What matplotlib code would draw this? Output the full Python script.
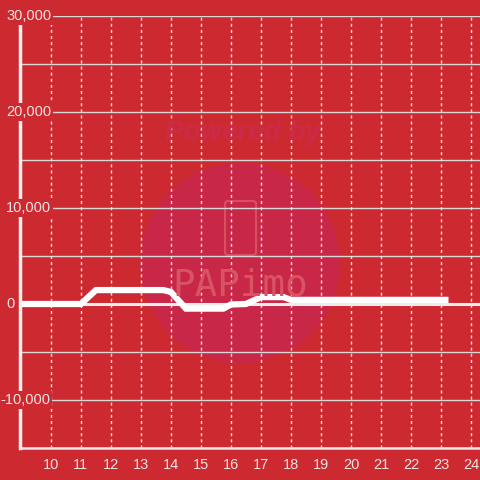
import matplotlib
matplotlib.use('Agg')
import matplotlib.pyplot as plt
import matplotlib.transforms as mtransforms
from matplotlib.patches import Circle, FancyBboxPatch

# Datos de la serie (hora del dia, valor)
horas = [9.0, 11.0, 11.5, 13.75, 14.0, 14.5, 15.75, 16.0, 16.5, 17.0, 17.75, 18.0, 23.25]
valores = [0, 0, 1450, 1450, 1250, -480, -480, -50, 0, 720, 720, 430, 430]

# Marcas de los ejes
ticks_x = list(range(10, 25))
ticks_y = [-10000, 0, 10000, 20000, 30000]
etiquetas_y = ['-10,000', '0', '10,000', '20,000', '30,000']

fondo = '#cc2a30'
texto = '#f2e4e4'

plt.rcParams['font.family'] = ['Liberation Sans', 'DejaVu Sans']

fig = plt.figure(figsize=(4.8, 4.8), dpi=100, facecolor=fondo)
ax = fig.add_axes([20 / 480, 1 - 448 / 480, 460 / 480, 432 / 480])
ax.set_facecolor(fondo)

ax.set_xlim(8.97, 24.3)
ax.set_ylim(-15000, 30000)

# Marca de agua "Powered by PAPIMO"
ax.add_patch(Circle((240 / 480, 1 - 263 / 480), 100 / 480, transform=fig.transFigure,
                    color='#c92748', zorder=0.1, lw=0))
ax.add_patch(FancyBboxPatch((225 / 480, 1 - 255 / 480), 31 / 480, 54 / 480,
                            boxstyle='round,pad=0,rounding_size=0.006',
                            transform=fig.transFigure, fill=False,
                            ec='#d85060', lw=1.5, zorder=0.2))
fig.text(243 / 480, 1 - 133 / 480, 'Powered by', transform=fig.transFigure,
         ha='center', va='center', fontsize=20, fontweight='bold', style='italic',
         color='#cb2a48', zorder=0.2)
fig.text(240 / 480, 1 - 286 / 480, 'PAPimo', transform=fig.transFigure,
         ha='center', va='center', fontsize=27, family='DejaVu Sans Mono',
         color='#d85462', zorder=0.2)

# Rejilla horizontal cada 5000 y vertical punteada
for y in range(-15000, 30001, 5000):
    if y != 0:
        ax.axhline(y, color='#d8d8d8', lw=1, zorder=1)
for x in ticks_x:
    ax.axvline(x, color='#e6e6e6', lw=1, ls=(0, (2.2, 2.2)), zorder=1)

# Linea de cero
ax.axhline(0, color='#ececec', lw=2.2, zorder=2)

# Serie
ax.plot(horas, valores, color='white', lw=4.5, solid_capstyle='butt',
        solid_joinstyle='miter', zorder=3)

# Ejes
for s in ['top', 'right']:
    ax.spines[s].set_visible(False)
ax.spines['left'].set_color('#f4f0f0')
ax.spines['left'].set_linewidth(2.5)
ax.spines['left'].set_zorder(4)
ax.spines['bottom'].set_color('#e8e8e8')
ax.spines['bottom'].set_linewidth(1.8)

ax.set_xticks(ticks_x)
ax.set_xticklabels([str(t) for t in ticks_x], color=texto, fontsize=10.5)
ax.tick_params(axis='x', length=0, pad=7)
ax.set_yticks([])

# Etiquetas del eje y con fondo que tapa la rejilla
trans = mtransforms.blended_transform_factory(fig.transFigure, ax.transData)
for v, lab in zip(ticks_y, etiquetas_y):
    xpix = 0 if lab.startswith('-') else 6
    ax.text(xpix / 480, v, lab, transform=trans,
            ha='left', va='center', fontsize=10.5, color=texto, zorder=5, clip_on=False,
            bbox=dict(boxstyle='square,pad=0.15', fc=fondo, ec='none'))

fig.savefig('out.png', dpi=100, facecolor=fondo)
